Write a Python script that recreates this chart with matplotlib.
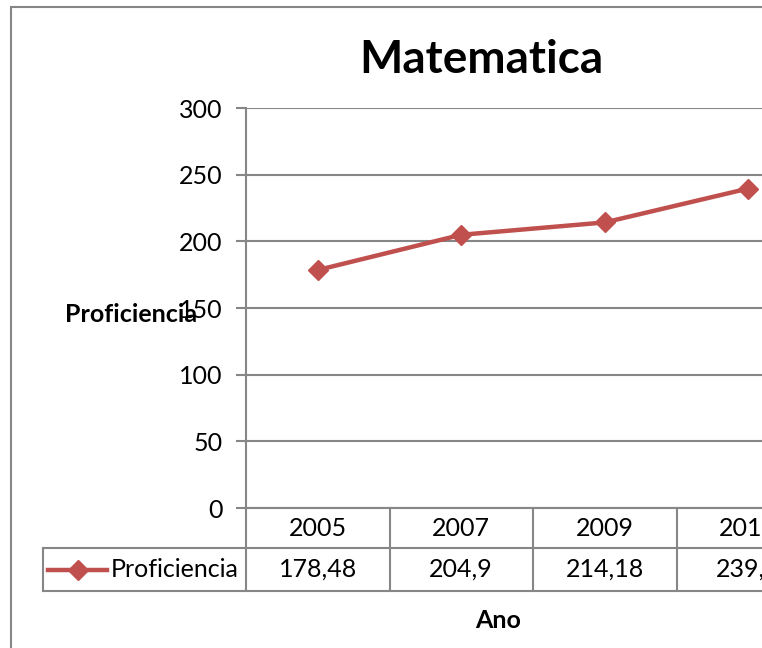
import matplotlib.pyplot as plt
from matplotlib.patches import Rectangle
from matplotlib.lines import Line2D
from matplotlib.transforms import blended_transform_factory

# data
years = ['2005', '2007', '2009', '2011']
proficiencia = [178.48, 204.9, 214.18, 239.6]
value_labels = ['178,48', '204,9', '214,18', '239,6']
yticks = [0, 50, 100, 150, 200, 250, 300]

plt.rcParams['font.family'] = ['Lato', 'DejaVu Sans']

W, H = 762, 648
fig = plt.figure(figsize=(W / 100, H / 100), dpi=100)

red = '#C0504D'
gray = '#868686'
fs = 18

# chart frame (cropped on the right)
fig.add_artist(Rectangle((11 / W, -0.1), 1.2, 1 - 7 / H + 0.1, transform=fig.transFigure,
                         fill=False, edgecolor=gray, lw=1.5))

# plot area extends past the right edge
ax = fig.add_axes([246 / W, 1 - 508 / H, 574 / W, 400 / H])
x = list(range(len(years)))
ax.plot(x, proficiencia, color=red, lw=3.2, marker='D', markersize=10,
        markerfacecolor=red, markeredgecolor=red, clip_on=False, zorder=5)

ax.set_xlim(-0.5, len(years) - 0.5)
ax.set_ylim(0, 300)
ax.set_yticks(yticks)
ax.set_yticklabels([str(v) for v in yticks], fontsize=fs)
ax.yaxis.grid(True, color=gray, lw=1.5)
ax.set_axisbelow(True)
ax.set_xticks([])
for s in ['top', 'right']:
    ax.spines[s].set_visible(False)
ax.spines['left'].set_color(gray)
ax.spines['left'].set_linewidth(1.5)
ax.spines['bottom'].set_color(gray)
ax.spines['bottom'].set_linewidth(1.5)
ax.tick_params(axis='y', length=7, width=1.5, color=gray, pad=10)

fig.text(481 / W, 1 - 60 / H, 'Matematica', fontsize=33, fontweight='bold',
         ha='center', va='center')
ax.set_ylabel('Proficiencia', fontsize=fs, fontweight='bold', rotation=0, va='center')
ax.yaxis.set_label_coords(-0.1995, 0.485)

# data table under the plot
tr = blended_transform_factory(ax.transData, ax.transAxes)
row1, row2 = -40 / 400, -83 / 400
left_cell = -0.5 - 203 / 143.5
ax.add_line(Line2D([left_cell, 4.5], [row1, row1], transform=tr, color=gray, lw=1.5, clip_on=False))
ax.add_line(Line2D([left_cell, 4.5], [row2, row2], transform=tr, color=gray, lw=1.5, clip_on=False))
ax.add_line(Line2D([left_cell, left_cell], [row1, row2], transform=tr, color=gray, lw=1.5, clip_on=False))
for i in range(len(years) + 1):
    ax.add_line(Line2D([i - 0.5, i - 0.5], [0, row2], transform=tr, color=gray, lw=1.5, clip_on=False))
for i, (yr, lab) in enumerate(zip(years, value_labels)):
    ax.text(i, row1 / 2, yr, transform=tr, ha='center', va='center', fontsize=fs, clip_on=False)
    ax.text(i, (row1 + row2) / 2, lab, transform=tr, ha='center', va='center', fontsize=fs, clip_on=False)

# legend key in table
ky = (row1 + row2) / 2
k0 = left_cell + 5 / 143.5
k1 = left_cell + 64 / 143.5
ax.add_line(Line2D([k0, k1], [ky, ky], transform=tr, color=red, lw=3.2, clip_on=False))
ax.add_line(Line2D([(k0 + k1) / 2], [ky], transform=tr, marker='D', markersize=10, color=red, clip_on=False))
ax.text(left_cell + 68 / 143.5, ky, 'Proficiencia', transform=tr, ha='left', va='center',
        fontsize=fs, clip_on=False)

ax.text(0.44, -112 / 400, 'Ano', transform=ax.transAxes, ha='center', va='center',
        fontsize=fs, fontweight='bold')

plt.savefig('out.png')
